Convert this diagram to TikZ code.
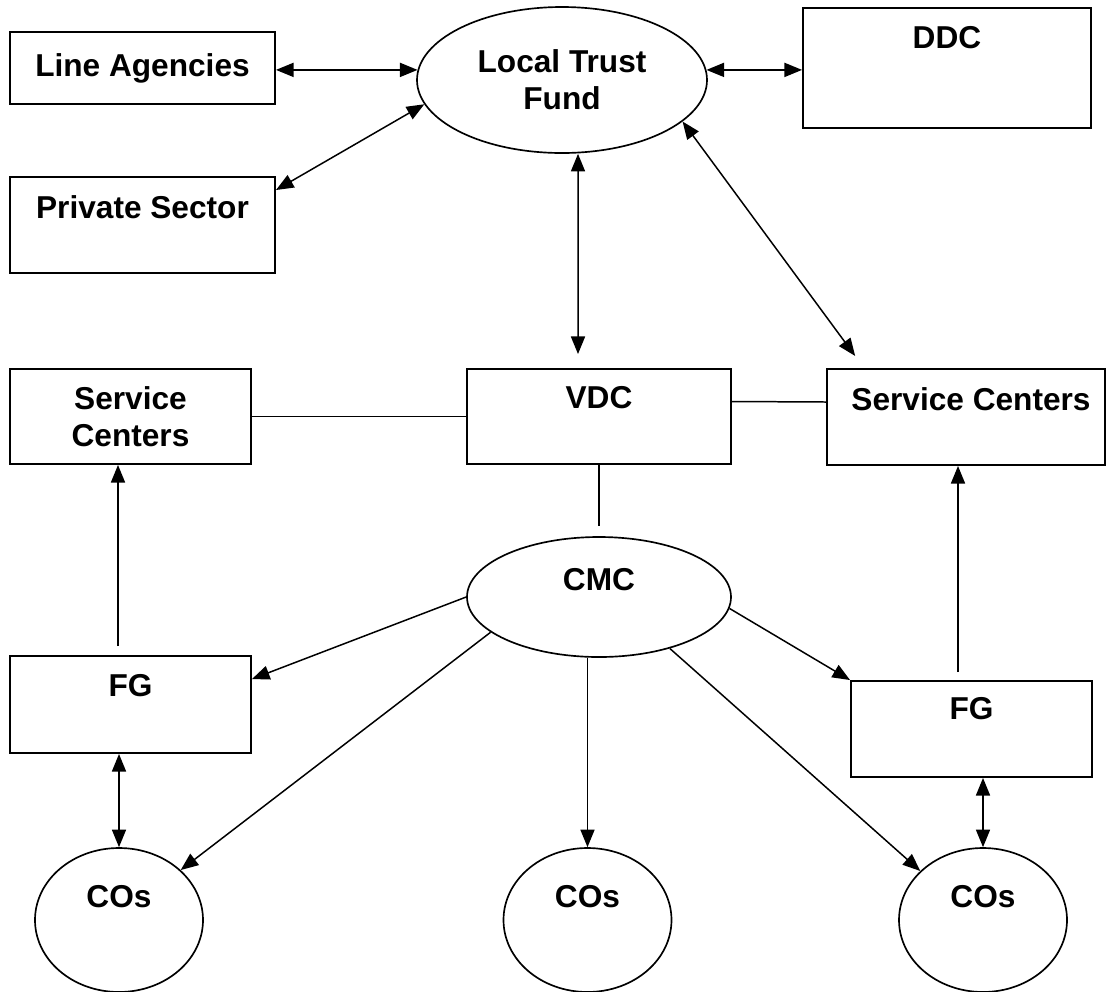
\documentclass[tikz,border=0pt]{standalone}
\usepackage{fontspec}
\setmainfont{Liberation Sans}
\usetikzlibrary{arrows.meta,shapes.geometric}

\begin{document}
\begin{tikzpicture}[
    font=\bfseries\fontsize{18}{21}\selectfont,
    >={Triangle[length=10pt,width=8pt]},
    box/.style={draw,line width=1.1pt,minimum width=4.82cm,minimum height=1.92cm,align=center,inner sep=0pt},
    oval/.style={draw,ellipse,line width=0.95pt,inner sep=0pt,align=center},
    lbl/.style={anchor=center,yshift=-0.62cm},
    arrow/.style={->,line width=0.85pt},
    dblarrow/.style={<->,line width=0.85pt},
    link/.style={line width=0.85pt}
  ]
  \useasboundingbox (0,0) rectangle (22.2,-19.82);

  % top row
  \node[box,minimum width=5.3cm,minimum height=1.44cm] (la) at (2.85,-1.36) {Line Agencies};
  \node[box,minimum width=5.3cm,label={[lbl]north:Private Sector}] (ps) at (2.85,-4.5) {};
  \node[oval,minimum width=5.8cm,minimum height=2.92cm] (ltf) at (11.24,-1.6) {Local Trust\\Fund};
  \node[box,minimum width=5.76cm,minimum height=2.4cm,label={[lbl]north:DDC}] (ddc) at (18.94,-1.36) {};

  % middle row
  \node[box,minimum height=1.9cm] (scl) at (2.61,-8.33) {Service\\Centers};
  \node[box,minimum width=5.28cm,minimum height=1.9cm,label={[lbl,yshift=0.02cm]north:VDC}] (vdc) at (11.98,-8.33) {};
  \node[box,minimum width=5.56cm,label={[lbl,xshift=0.1cm]north:Service Centers}] (scr) at (19.32,-8.34) {};
  \node[oval,minimum width=5.28cm,minimum height=2.4cm,label={[anchor=center,yshift=-0.86cm]north:CMC}] (cmc) at (11.98,-11.94) {};

  % bottom rows
  \node[box,minimum height=1.94cm,label={[lbl]north:FG}] (fgl) at (2.61,-14.09) {};
  \node[box,label={[lbl,yshift=0.04cm]north:FG}] (fgr) at (19.43,-14.58) {};
  \node[oval,minimum width=3.36cm,minimum height=2.88cm,label={[anchor=center,yshift=-0.98cm]north:COs}] (col) at (2.38,-18.4) {};
  \node[oval,minimum width=3.36cm,minimum height=2.88cm,label={[anchor=center,yshift=-0.98cm]north:COs}] (com) at (11.75,-18.4) {};
  \node[oval,minimum width=3.36cm,minimum height=2.88cm,label={[anchor=center,yshift=-0.98cm]north:COs}] (cor) at (19.66,-18.4) {};

  \draw[dblarrow] (ltf.176 -| la.east) -- (ltf.176);
  \draw[dblarrow] (ltf.4) -- (ltf.4 -| ddc.west);
  \draw[dblarrow] ([yshift=-0.28cm]ps.north east) -- (ltf.190);
  \draw[dblarrow,shorten >=0.28cm] ([xshift=0.32cm]ltf.south) -- ([xshift=-0.42cm]vdc.north);
  \draw[dblarrow,shorten >=0.3cm] (ltf.-19) -- ([xshift=0.76cm]scr.north west);

  \draw[link] (scl.east) -- (vdc.west);
  \draw[link] ([yshift=0.3cm]vdc.east) -- ([yshift=0.3cm]scr.west);
  \draw[link] (vdc.south) -- ([yshift=0.2cm]cmc.north);

  \draw[arrow] (cmc.west) -- ([yshift=-0.48cm]fgl.north east);
  \draw[arrow] (cmc.-5) -- (fgr.north west);
  \draw[arrow] (cmc.198) -- (col.39);
  \draw[arrow] (com.north |- cmc.south) -- (com.north);
  \draw[arrow] (cmc.-36) -- (cor.142);

  \draw[arrow,shorten <=0.18cm] ([xshift=-0.25cm]fgl.north) -- ([xshift=-0.25cm]scl.south);
  \draw[arrow,shorten <=0.16cm] ([xshift=-0.27cm]fgr.north) -- ([xshift=-0.27cm]fgr.north |- scr.south);
  \draw[dblarrow] (col.north |- fgl.south) -- (col.north);
  \draw[dblarrow] (cor.north |- fgr.south) -- (cor.north);
\end{tikzpicture}
\end{document}
